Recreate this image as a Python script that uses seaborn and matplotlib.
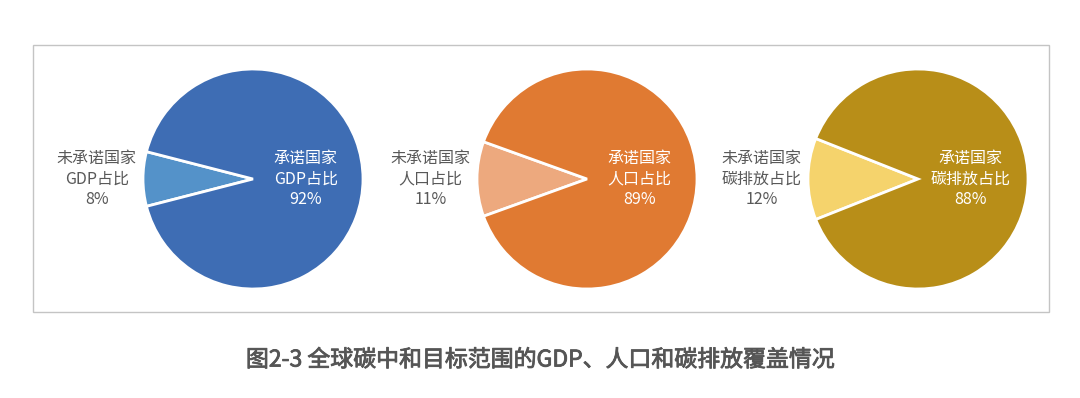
import matplotlib
matplotlib.use("Agg")
import matplotlib.pyplot as plt
import matplotlib.patheffects as pe
import seaborn as sns
from matplotlib.patches import Rectangle

# chart data
metrics = ["GDP占比", "人口占比", "碳排放占比"]
committed = [92, 89, 88]
uncommitted = [8, 11, 12]
big_colors = ["#3E6DB4", "#E07A32", "#B88E18"]
small_colors = ["#5492C9", "#EDA97E", "#F5D36C"]
caption = "图2-3 全球碳中和目标范围的GDP、人口和碳排放覆盖情况"

sns.set_theme(style="white")
plt.rcParams['font.family'] = ['Noto Sans CJK SC', 'DejaVu Sans']

W, H = 1080, 398
fig = plt.figure(figsize=(W / 100, H / 100), dpi=100)
fig.patch.set_facecolor("white")

# outer frame around the three pies
fig.patches.append(Rectangle((33 / W, (H - 312) / H), 1016 / W, 267 / H,
                             transform=fig.transFigure, fill=False,
                             edgecolor="#C4C4C4", linewidth=1))

centers_x = [253, 587, 918]
center_y = 179
r = 110

for i, name in enumerate(metrics):
    ax = fig.add_axes([(centers_x[i] - r) / W, (H - center_y - r) / H, 2 * r / W, 2 * r / H])
    small = uncommitted[i]
    ax.pie([small, committed[i]], colors=[small_colors[i], big_colors[i]],
           startangle=180 - small * 3.6 / 2, counterclock=True,
           wedgeprops=dict(edgecolor="white", linewidth=2))
    ax.set_xlim(-1.0, 1.0)
    ax.set_ylim(-1.0, 1.0)
    ax.set_aspect("equal")
    ax.axis("off")
    ax.text(-1.42, 0, f"未承诺国家\n{name}\n{small}%", ha="center", va="center",
            fontsize=11.5, color="#595959", linespacing=1.3, clip_on=False)
    ax.text(0.48, 0, f"承诺国家\n{name}\n{committed[i]}%", ha="center", va="center",
            fontsize=11.5, color="white", linespacing=1.3, clip_on=False)

# caption: regular weight thickened a little to look like a medium face
fig.text(0.5, 1 - 360 / H, caption, ha="center", va="center",
         fontsize=16.5, color="#555555",
         path_effects=[pe.withStroke(linewidth=0.6, foreground="#555555")])

fig.savefig("out.png", dpi=100)
